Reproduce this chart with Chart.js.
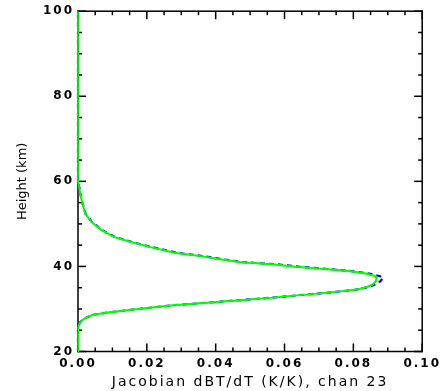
<!DOCTYPE html>
<html>
<head>
<meta charset="utf-8">
<script src="https://cdn.jsdelivr.net/npm/chart.js@4/dist/chart.umd.min.js"></script>
<style>
  html, body { margin: 0; padding: 0; background: #fff; }
  #wrap { width: 442px; height: 391px; }
</style>
</head>
<body>
<div id="wrap"><canvas id="c" width="442" height="391"></canvas></div>
<script>
// Temperature Jacobian profile for channel 23 (height in km vs dBT/dT)
const heights = [20, 25.0, 25.5, 26.3, 26.9, 27.4, 28.0, 28.6, 29.2, 30.1, 30.9, 31.5, 32.1, 32.7, 33.4, 34.1, 34.6, 35.2, 35.8, 36.5, 37.3, 37.7, 38.3, 38.9, 39.5, 39.9, 40.5, 41.0, 41.7, 42.4, 43.2, 44.5, 45.7, 46.9, 48.5, 50.4, 52.4, 55.1, 57.0, 58.5, 60.0, 100];
const jacobianGreen = [0, 0, 0.0001, 0.0003, 0.0006, 0.0013, 0.0025, 0.0042, 0.0089, 0.0186, 0.0282, 0.0379, 0.0475, 0.0570, 0.0665, 0.0760, 0.0813, 0.0840, 0.0857, 0.0865, 0.0868, 0.0864, 0.0838, 0.0789, 0.0702, 0.0635, 0.0567, 0.0471, 0.0410, 0.0359, 0.0282, 0.0212, 0.0155, 0.0105, 0.0069, 0.0040, 0.0021, 0.0012, 0.0007, 0.0003, 0, 0];
const jacobianBlue = [0, 0, 0.0001, 0.0003, 0.0006, 0.0013, 0.0025, 0.0042, 0.0089, 0.0186, 0.0282, 0.0379, 0.0475, 0.0570, 0.0665, 0.0760, 0.0815, 0.0845, 0.0866, 0.0878, 0.0887, 0.0878, 0.0846, 0.0795, 0.0710, 0.0645, 0.0577, 0.0480, 0.0418, 0.0366, 0.0288, 0.0217, 0.0159, 0.0108, 0.0071, 0.0041, 0.0022, 0.0012, 0.0007, 0.0004, 0, 0];

const xTickLabels = [0, 0.02, 0.04, 0.06, 0.08, 0.10];
const yTickLabels = [20, 40, 60, 80, 100];
const xMinorStep = 0.005;
const yMinorStep = 5;

// Boxed frame with inward major/minor tick marks on all four sides, built from
// thin filled bars; the green profile is drawn again afterwards so it stays on top
const frameTicks = {
  id: 'frameTicks',
  afterDraw(chart) {
    const { ctx, chartArea: a, scales: { x, y } } = chart;
    const t = 1.5;
    ctx.save();
    ctx.globalAlpha = 1;
    ctx.globalCompositeOperation = 'source-over';
    ctx.fillStyle = 'rgb(0,0,0)';
    const w = a.right - a.left, h = a.bottom - a.top;
    ctx.fillRect(a.left - t / 2, a.top - t / 2, w + t, t);
    ctx.fillRect(a.left - t / 2, a.bottom - t / 2, w + t, t);
    ctx.fillRect(a.left - t / 2, a.top - t / 2, t, h + t);
    ctx.fillRect(a.right - t / 2, a.top - t / 2, t, h + t);
    const nx = Math.round((x.max - x.min) / xMinorStep);
    for (let i = 0; i <= nx; i++) {
      const len = i % 4 === 0 ? 8 : 4;
      const px = x.getPixelForValue(x.min + i * xMinorStep);
      ctx.fillRect(px - t / 2, a.bottom - len, t, len);
      ctx.fillRect(px - t / 2, a.top, t, len);
    }
    const ny = Math.round((y.max - y.min) / yMinorStep);
    for (let i = 0; i <= ny; i++) {
      const len = i % 4 === 0 ? 8 : 4;
      const py = y.getPixelForValue(y.min + i * yMinorStep);
      ctx.fillRect(a.left, py - t / 2, len, t);
      ctx.fillRect(a.right - len, py - t / 2, len, t);
    }
    ctx.restore();

    ctx.save();
    chart.getDatasetMeta(0).controller.draw();
    ctx.restore();
  }
};

// Wide character spacing for tick labels and the x title
const spacing = {
  id: 'spacing',
  beforeDraw(chart) { chart.ctx.letterSpacing = '0px'; },
  afterDatasetsDraw(chart) { chart.ctx.letterSpacing = '2px'; },
  afterDraw(chart) { chart.ctx.letterSpacing = '0px'; }
};

const toPoints = (vals) => heights.map((h, i) => ({ x: vals[i], y: h }));

new Chart(document.getElementById('c'), {
  type: 'line',
  data: {
    datasets: [
      {
        label: 'green',
        data: toPoints(jacobianGreen),
        borderColor: '#00ff00',
        borderWidth: 1.7,
        pointRadius: 0,
        tension: 0,
        clip: 5,
        order: 0
      },
      {
        label: 'blue',
        data: toPoints(jacobianBlue),
        borderColor: '#0000ff',
        borderWidth: 2.2,
        borderDash: [5, 4],
        pointRadius: 0,
        tension: 0,
        clip: 5,
        order: 1
      }
    ]
  },
  options: {
    responsive: false,
    animation: false,
    devicePixelRatio: 1,
    layout: { padding: { left: 0, top: 9, right: 19, bottom: 0 } },
    plugins: { legend: { display: false }, tooltip: { enabled: false } },
    scales: {
      x: {
        type: 'linear',
        position: 'bottom',
        min: 0,
        max: 0.1,
        afterBuildTicks: (s) => { s.ticks = xTickLabels.map(v => ({ value: v })); },
        afterFit: (s) => { s.height = 39.5; },
        grid: { display: false, drawTicks: false, z: 1 },
        border: { display: false },
        ticks: {
          z: 1,
          padding: 5,
          maxRotation: 0,
          autoSkip: false,
          color: '#000',
          font: { family: 'DejaVu Sans', size: 12, weight: 'bold' },
          callback: (v) => Number(v).toFixed(2)
        },
        title: {
          display: true,
          text: 'Jacobian dBT/dT (K/K), chan 23',
          color: '#000',
          font: { family: 'DejaVu Sans', size: 14, weight: 'normal' },
          padding: { top: 0, bottom: 0 }
        }
      },
      y: {
        type: 'linear',
        position: 'left',
        min: 20,
        max: 100,
        afterBuildTicks: (s) => { s.ticks = yTickLabels.map(v => ({ value: v })); },
        afterFit: (s) => { s.width = 78; },
        grid: { display: false, drawTicks: false },
        border: { display: false },
        ticks: {
          z: 1,
          padding: 4,
          autoSkip: false,
          color: '#000',
          font: { family: 'DejaVu Sans', size: 12, weight: 'bold' },
          callback: (v) => String(v)
        },
        title: {
          display: true,
          text: 'Height (km)',
          color: '#000',
          font: { family: 'DejaVu Sans', size: 13, weight: 'normal' },
          padding: { top: 15, bottom: 0 }
        }
      }
    }
  },
  plugins: [frameTicks, spacing]
});
</script>
</body>
</html>
